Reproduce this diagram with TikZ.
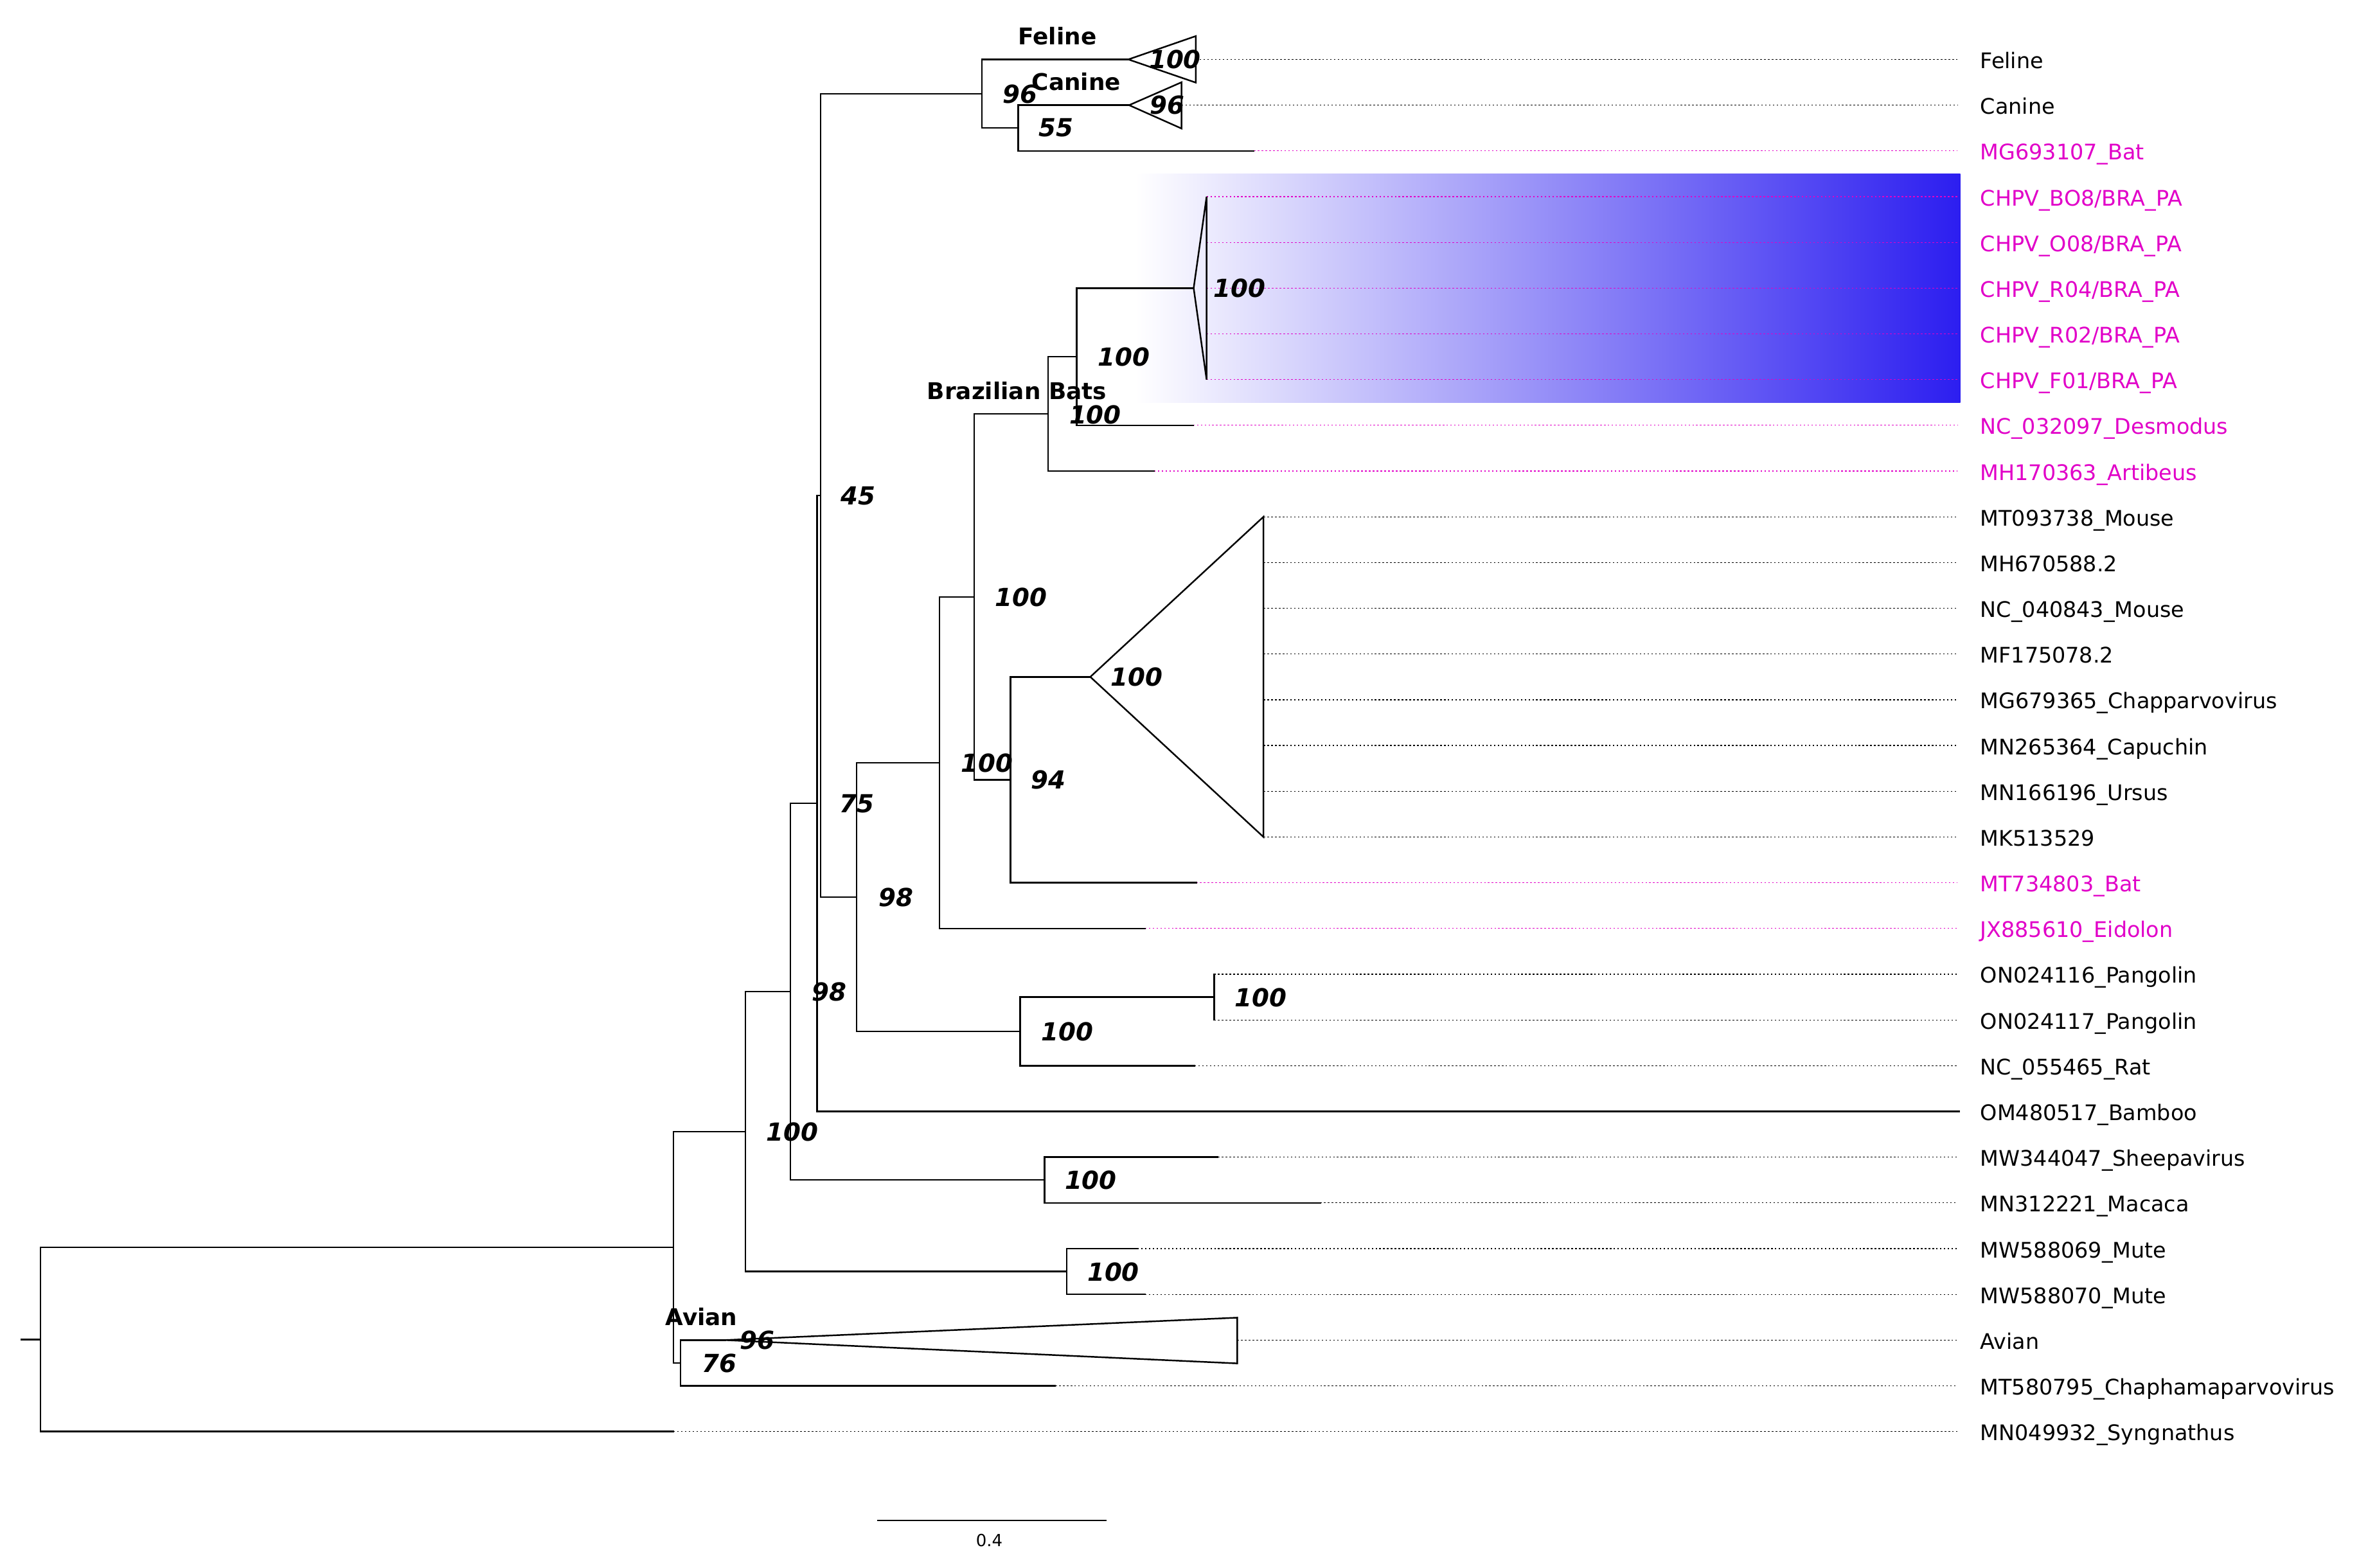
\documentclass[tikz,border=0pt]{standalone}
\usepackage{fontspec}
\setmainfont{DejaVu Sans}[BoldFont={DejaVu Sans Bold},ItalicFont={DejaVu Sans Oblique},BoldItalicFont={DejaVu Sans Bold Oblique}]
\definecolor{magL}{RGB}{225,0,200}
\definecolor{gradblue}{RGB}{44,30,240}
\tikzset{
  br/.style={line width=0.7pt, line cap=rect, line join=miter},
  tri/.style={line width=0.7pt, line join=miter},
  dotline/.style={line width=0.35pt, dash pattern=on 0.7pt off 1.0pt},
  tiplab/.style={inner sep=0pt, anchor=base west, font=\fontsize{9.5}{11}\selectfont},
  sup/.style={inner sep=0pt, font=\fontsize{11}{13}\selectfont\bfseries\itshape},
  clade/.style={inner sep=0pt, anchor=base west, font=\fontsize{10.2}{12}\selectfont\bfseries},
}
\newcommand\TipRow[5]{%
  \coordinate (s#1) at (#4,#2);
  \coordinate (e#1) at (1301,#2);
  \draw[dotline,draw=#3] (s#1) -- (e#1);
  \node[tiplab,text=#3] (L#1) at (1316,#2+6) {#5};
}
\begin{document}
\begin{tikzpicture}[x=0.023412cm,y=-0.023412cm]
\useasboundingbox (0,0) rectangle (1568,1041.8);
% gradient highlight
\shade[left color=white,right color=gradblue] (754.8,115.7) rectangle (1303,267.5);

% tip rows
\TipRow{0}{39.5}{black}{794.8}{Feline}
\TipRow{1}{69.9}{black}{785.3}{Canine}
\TipRow{2}{100.3}{magL}{833.4}{MG693107\_Bat}
\TipRow{3}{130.7}{magL}{802}{CHPV\_BO8/BRA\_PA}
\TipRow{4}{161.1}{magL}{802}{CHPV\_O08/BRA\_PA}
\TipRow{5}{191.5}{magL}{802}{CHPV\_R04/BRA\_PA}
\TipRow{6}{221.9}{magL}{802}{CHPV\_R02/BRA\_PA}
\TipRow{7}{252.3}{magL}{802}{CHPV\_F01/BRA\_PA}
\TipRow{8}{282.7}{magL}{793}{NC\_032097\_Desmodus}
\TipRow{9}{313.1}{magL}{767}{MH170363\_Artibeus}
\TipRow{10}{343.5}{black}{839.8}{MT093738\_Mouse}
\TipRow{11}{373.9}{black}{839.8}{MH670588.2}
\TipRow{12}{404.3}{black}{839.8}{NC\_040843\_Mouse}
\TipRow{13}{434.7}{black}{839.8}{MF175078.2}
\TipRow{14}{465.1}{black}{839.8}{MG679365\_Chapparvovirus}
\TipRow{15}{495.5}{black}{839.8}{MN265364\_Capuchin}
\TipRow{16}{525.9}{black}{839.8}{MN166196\_Ursus}
\TipRow{17}{556.3}{black}{839.8}{MK513529}
\TipRow{18}{586.7}{magL}{795}{MT734803\_Bat}
\TipRow{19}{617.1}{magL}{761}{JX885610\_Eidolon}
\TipRow{20}{647.5}{black}{807}{ON024116\_Pangolin}
\TipRow{21}{677.9}{black}{807}{ON024117\_Pangolin}
\TipRow{22}{708.3}{black}{794}{NC\_055465\_Rat}
\coordinate (s23) at (1302,738.7);
\node[tiplab] (L23) at (1316,744.7) {OM480517\_Bamboo};
\TipRow{24}{769.1}{black}{809.5}{MW344047\_Sheepavirus}
\TipRow{25}{799.5}{black}{877.5}{MN312221\_Macaca}
\TipRow{26}{829.9}{black}{756}{MW588069\_Mute}
\TipRow{27}{860.3}{black}{761}{MW588070\_Mute}
\TipRow{28}{890.7}{black}{822.4}{Avian}
\TipRow{29}{921.1}{black}{701.4}{MT580795\_Chaphamaparvovirus}
\TipRow{30}{951.5}{black}{447.6}{MN049932\_Syngnathus}

% internal nodes
\coordinate (stub) at (14,890.25);
\coordinate (root) at (27,890.25);
\coordinate (N1) at (447.6,829.0);
\coordinate (N2) at (495.5,752.1);
\coordinate (AvN) at (452.4,905.9);
\coordinate (AvApex) at (482,890.7);
\coordinate (N3) at (525.4,659.15);
\coordinate (Mute) at (709,845.1);
\coordinate (N4) at (543,534.0);
\coordinate (Sheep) at (694.3,784.3);
\coordinate (N5) at (545.5,329.25);
\coordinate (N12) at (652.6,62.3);
\coordinate (FelApex) at (750,39.5);
\coordinate (N13) at (676.8,85.1);
\coordinate (CanApex) at (750.5,69.9);
\coordinate (N6) at (569.4,596.2);
\coordinate (N7) at (624.5,506.9);
\coordinate (N8) at (647.6,396.7);
\coordinate (N9) at (696.7,275.1);
\coordinate (N11) at (715.7,237.1);
\coordinate (ChApex) at (793.4,191.5);
\coordinate (N10) at (671.6,518.3);
\coordinate (BigApex) at (724.7,449.9);
\coordinate (N14) at (678,685.5);
\coordinate (Pang) at (807,662.7);

% branches
\draw[br] (stub) -- (root);
\draw[br] (root) |- (N1);
\draw[br] (root) |- (s30);
\draw[br] (N1) |- (N2);
\draw[br] (N1) |- (AvN);
\draw[br] (AvN) |- (AvApex);
\draw[br] (AvN) |- (s29);
\draw[br] (N2) |- (N3);
\draw[br] (N2) |- (Mute);
\draw[br] (Mute) |- (s26);
\draw[br] (Mute) |- (s27);
\draw[br] (N3) |- (N4);
\draw[br] (N3) |- (Sheep);
\draw[br] (Sheep) |- (s24);
\draw[br] (Sheep) |- (s25);
\draw[br] (N4) |- (N5);
\draw[br] (N4) |- (s23);
\draw[br] (N5) |- (N12);
\draw[br] (N5) |- (N6);
\draw[br] (N12) |- (FelApex);
\draw[br] (N12) |- (N13);
\draw[br] (N13) |- (CanApex);
\draw[br] (N13) |- (s2);
\draw[br] (N6) |- (N7);
\draw[br] (N6) |- (N14);
\draw[br] (N7) |- (N8);
\draw[br] (N7) |- (s19);
\draw[br] (N8) |- (N9);
\draw[br] (N8) |- (N10);
\draw[br] (N9) |- (N11);
\draw[br] (N9) |- (s9);
\draw[br] (N11) |- (ChApex);
\draw[br] (N11) |- (s8);
\draw[br] (N10) |- (BigApex);
\draw[br] (N10) |- (s18);
\draw[br] (N14) |- (Pang);
\draw[br] (N14) |- (s22);
\draw[br] (Pang) -- (s20);
\draw[br] (Pang) -- (s21);

% collapsed clades
\draw[tri] (FelApex) -- (794.8,24) -- (794.8,54.9) -- cycle;
\draw[tri] (CanApex) -- (785.3,54.7) -- (785.3,85.4) -- cycle;
\draw[tri] (ChApex) -- (s3) -- (s7) -- cycle;
\draw[tri] (BigApex) -- (s10) -- (s17) -- cycle;
\draw[tri] (AvApex) -- (822.4,875.8) -- (822.4,906.2) -- cycle;

% clade labels
\node[clade] (cFel) at (676.5,29.6) {Feline};
\node[clade] (cCan) at (685.6,60) {Canine};
\node[clade] (cBra) at (616,265.4) {Brazilian Bats};
\node[clade] (cAvi) at (442,881) {Avian};

% support values
\node[sup] (b1) at (781,39.6) {100};
\node[sup] (b2) at (678,62.4) {96};
\node[sup] (b3) at (775.7,70) {96};
\node[sup] (b4) at (702,84.9) {55};
\node[sup] (b5) at (824,191.6) {100};
\node[sup] (b6) at (747,237.4) {100};
\node[sup] (b7) at (728,275.5) {100};
\node[sup] (b8) at (570.5,329.6) {45};
\node[sup] (b9) at (678.7,396.8) {100};
\node[sup] (b10) at (755.5,449.9) {100};
\node[sup] (b11) at (656,507) {100};
\node[sup] (b12) at (697,518.3) {94};
\node[sup] (b13) at (569.4,534) {75};
\node[sup] (b14) at (595.5,596.4) {98};
\node[sup] (b15) at (551,659.3) {98};
\node[sup] (b16) at (838,662.9) {100};
\node[sup] (b17) at (709.6,685.7) {100};
\node[sup] (b18) at (526.6,752.5) {100};
\node[sup] (b19) at (725,784.4) {100};
\node[sup] (b20) at (740,845.5) {100};
\node[sup] (b21) at (503.3,890.9) {96};
\node[sup] (b22) at (478,906) {76};

% scale bar
\coordinate (sbL) at (583,1010.6);
\coordinate (sbR) at (735.3,1010.6);
\draw[line width=0.8pt] (sbL) -- (sbR);
\node[inner sep=0pt,font=\fontsize{7.4}{9}\selectfont] (sbT) at (657.6,1023.9) {0.4};
\end{tikzpicture}
\end{document}
